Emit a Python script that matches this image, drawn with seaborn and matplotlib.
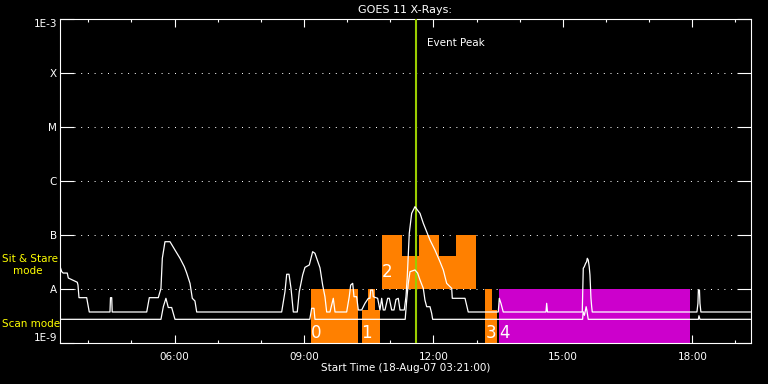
import numpy as np
import matplotlib
matplotlib.use("Agg")
import matplotlib.pyplot as plt
import seaborn as sns
from matplotlib.ticker import NullLocator

# ---------------- data (times in minutes after 00:00 on 18-Aug-07, flux in W/m^2) -------------
long_t = [201, 203, 205, 210.7, 212.1, 224.6, 225.6, 227, 237.7, 239.1, 241.3, 270.1, 270.8,
          272.5, 273.2, 321.2, 324.8, 337.3, 341, 342.9, 346.6, 353.6, 360.5, 367.5, 373.5,
          376.8, 381.4, 384.6, 388.3, 390.7, 508.9, 513.5, 515.9, 519.1, 521.9, 525.1, 530.6,
          533.4, 538.1, 541.3, 547.3, 552, 555.2, 562.2, 565.9, 569.1, 571.5, 576.1, 580.7,
          583.1, 599.3, 602.9, 604.9, 607.7, 609.5, 613.2, 615.5, 620.2, 624.8, 629.4, 631.7,
          632.7, 635.5, 636.3, 642.4, 645.6, 648, 650.2, 652.6, 656.3, 658.6, 661.9, 665.1,
          667.9, 671.1, 673.5, 679.4, 681.8, 683.6, 686.4, 689.7, 694.3, 698.9, 701.3, 705.9,
          715.2, 722.1, 729.1, 733.7, 738.4, 745.4, 746.2, 763.9, 768.4, 810.2, 811.6, 813.9,
          817.1, 876.5, 877.5, 878.6, 927, 928.4, 929.8, 931.7, 933.1, 934, 935.3, 936.7, 937.7,
          939.1, 940.1, 940.9, 1086.5, 1087.9, 1088.5, 1090, 1090.7, 1092, 1161]
long_f = [2.55e-8, 2.12e-8, 2.0e-8, 2.0e-8, 1.62e-8, 1.35e-8, 1.2e-8, 7.0e-9, 7.0e-9, 5.5e-9,
          3.8e-9, 3.8e-9, 7.0e-9, 7.0e-9, 3.8e-9, 3.8e-9, 7.0e-9, 7.0e-9, 1.04e-8, 3.75e-8,
          7.61e-8, 7.61e-8, 5.34e-8, 3.75e-8, 2.62e-8, 2.0e-8, 1.29e-8, 6.81e-9, 6.07e-9,
          3.8e-9, 3.8e-9, 9.03e-9, 1.9e-8, 1.9e-8, 1.04e-8, 3.8e-9, 3.8e-9, 9.03e-9, 1.84e-8,
          2.55e-8, 2.82e-8, 4.97e-8, 4.64e-8, 2.5e-8, 1.2e-8, 7.29e-9, 3.8e-9, 3.8e-9, 6.81e-9,
          3.8e-9, 3.8e-9, 7.29e-9, 1.2e-8, 1.29e-8, 7.29e-9, 7.29e-9, 4.14e-9, 4.14e-9, 5.5e-9,
          6.81e-9, 6.81e-9, 9.7e-9, 9.7e-9, 7.29e-9, 6.81e-9, 4.14e-9, 6.81e-9, 4.14e-9,
          4.14e-9, 6.81e-9, 6.81e-9, 4.14e-9, 4.14e-9, 6.5e-9, 6.81e-9, 4.14e-9, 4.14e-9,
          7.29e-9, 1.71e-8, 1.09e-7, 2.55e-7, 3.39e-7, 2.8e-7, 2.55e-7, 1.67e-7, 8.18e-8,
          5.34e-8, 3.24e-8, 2.28e-8, 1.29e-8, 1.04e-8, 6.81e-9, 6.81e-9, 3.8e-9, 3.8e-9,
          6.81e-9, 5.5e-9, 3.8e-9, 3.8e-9, 5.5e-9, 3.8e-9, 3.8e-9, 2.45e-8, 2.62e-8, 3.03e-8,
          3.24e-8, 3.75e-8, 3.49e-8, 2.62e-8, 1.84e-8, 6.81e-9, 4.76e-9, 3.8e-9, 3.8e-9,
          5.5e-9, 9.7e-9, 9.7e-9, 5.5e-9, 3.8e-9, 3.8e-9]

short_t = [201, 341, 344.3, 347.9, 351.2, 355.9, 360.5, 548, 550.6, 553.8, 555.2, 680.7, 682.8,
           685, 687.4, 694.3, 698, 701.3, 705.9, 708.2, 710.6, 715.2, 717.5, 718.9, 927.5,
           928.2, 930, 932.4, 933.5, 935.3, 1088.5, 1089.3, 1090.7, 1161]
short_f = [2.78e-9, 2.78e-9, 4.76e-9, 6.81e-9, 4.6e-9, 4.6e-9, 2.78e-9, 2.78e-9, 4.45e-9,
           4.45e-9, 2.78e-9, 2.78e-9, 6.3e-9, 1.29e-8, 2.12e-8, 2.28e-8, 2.0e-8, 1.49e-8,
           1.04e-8, 6.3e-9, 4.76e-9, 4.76e-9, 3.6e-9, 2.78e-9, 2.78e-9, 3.85e-9, 3.3e-9,
           4.76e-9, 4.0e-9, 2.78e-9, 2.78e-9, 3.24e-9, 2.78e-9, 2.78e-9]

# observation blocks
block_start = [549.7, 620.6, 628.5, 648, 676.7, 700.3, 727.7, 751.3, 791.7, 801.4, 811.1]
block_end = [614.6, 645.6, 638.7, 676.7, 700.3, 727.7, 751.3, 779.2, 801.4, 808.4, 1076.8]
block_low = [1e-9, 1e-9, 1e-9, 1e-8, 1e-8, 1e-8, 1e-8, 1e-8, 1e-9, 1e-9, 1e-9]
block_high = [1e-8, 4.14e-9, 1e-8, 1e-7, 4.14e-8, 1e-7, 4.14e-8, 1e-7, 1e-8, 4.14e-9, 1e-8]
block_kind = ["sit", "sit", "sit", "sit", "sit", "sit", "sit", "sit", "sit", "sit", "scan"]

block_labels = ["0", "1", "2", "3", "4"]
block_label_t = [556.5, 627, 655, 799.7, 819.5]
block_label_f = [1.53e-9, 1.53e-9, 2.07e-8, 1.56e-9, 1.56e-9]

event_peak_t = 695.7
t_start, t_end = 201, 1161

ytick_vals = [1e-9, 1e-8, 1e-7, 1e-6, 1e-5, 1e-4, 1e-3]
ytick_labels = ["1E-9", "A", "B", "C", "M", "X", "1E-3"]
xtick_hours = [6, 9, 12, 15, 18]
xtick_labels = ["06:00", "09:00", "12:00", "15:00", "18:00"]
minor_hours = list(range(4, 20))

# ---------------- drawing ----------------
sns.set_theme(style="dark", rc={"axes.facecolor": "black", "figure.facecolor": "black"})
plt.rcParams["font.family"] = ["DejaVu Sans"]

W, H = 768, 384
fig = plt.figure(figsize=(7.68, 3.84), dpi=100, facecolor="black")
x0, x1, ytop, ybot = 60.3, 750.5, 19.3, 343.3
ax = fig.add_axes([x0 / W, 1 - ybot / H, (x1 - x0) / W, (ybot - ytop) / H])
ax.set_facecolor("black")
ax.set_yscale("log")
ax.set_ylim(1e-9, 1e-3)
ax.set_xlim(t_start / 60, t_end / 60)

kind_color = {"sit": "#ff8000", "scan": "#cc00cc"}
bs = np.array(block_start) / 60
be = np.array(block_end) / 60
bl = np.array(block_low)
bh = np.array(block_high)
ax.bar(bs, bh - bl, width=be - bs, bottom=bl, align="edge",
       color=[kind_color[k] for k in block_kind], linewidth=0, zorder=2)

# dotted grid lines at class levels
for v in ytick_vals[1:-1]:
    ax.axhline(v, xmin=0.02, xmax=0.98, color="white", lw=0.72,
               ls=(0, (1, 5.7)), zorder=1)

ax.axvline(event_peak_t / 60, color="#9acd00", lw=1.5, zorder=4)
ax.text(event_peak_t / 60 + 0.25, 3.6e-4, "Event Peak", color="white",
        fontsize=7.5, ha="left", va="center", zorder=6)

sns.lineplot(x=np.array(long_t) / 60, y=long_f, estimator=None, sort=False,
             color="white", lw=0.9, ax=ax, zorder=5)
sns.lineplot(x=np.array(short_t) / 60, y=short_f, estimator=None, sort=False,
             color="white", lw=0.9, ax=ax, zorder=5)

for lab, t, f in zip(block_labels, block_label_t, block_label_f):
    ax.text(t / 60, f, lab, color="white", fontsize=12, ha="center", va="center", zorder=6)

# axes styling
for s in ax.spines.values():
    s.set_color("white")
    s.set_linewidth(0.8)
    s.set_visible(True)
ax.grid(False)

ax.set_yticks(ytick_vals, ytick_labels)
ax.yaxis.set_minor_locator(NullLocator())
ax.tick_params(axis="y", which="major", direction="in", length=10, width=0.8,
               left=True, right=True, colors="white", labelsize=7.5, pad=2.5)
tl = ax.get_yticklabels()
tl[0].set_va("bottom")
tl[-1].set_va("top")

ax.set_xticks(xtick_hours, xtick_labels)
ax.set_xticks(minor_hours, minor=True)
ax.tick_params(axis="x", which="major", direction="in", length=5.5, width=0.8,
               top=True, bottom=True, colors="white", labelsize=7.5, pad=6)
ax.tick_params(axis="x", which="minor", direction="in", length=2.5, width=0.8,
               top=True, bottom=True, colors="white")
ax.set_xlabel("")
ax.set_ylabel("")

fig.text(((x0 + x1) / 2) / W, 1 - 368 / H, "Start Time (18-Aug-07 03:21:00)",
         color="white", fontsize=7.5, ha="center", va="center")
fig.text(((x0 + x1) / 2) / W, 1 - 10 / H, "GOES 11 X-Rays:", color="white",
         fontsize=8, ha="center", va="center")
fig.text(2 / W, 1 - 259 / H, "Sit & Stare", color="yellow", fontsize=7.5,
         ha="left", va="center", zorder=10)
fig.text(13 / W, 1 - 271 / H, "mode", color="yellow", fontsize=7.5,
         ha="left", va="center", zorder=10)
fig.text(2 / W, 1 - 324 / H, "Scan mode", color="yellow", fontsize=7.5,
         ha="left", va="center", zorder=10)

fig.savefig("out.png", dpi=100, facecolor="black")
